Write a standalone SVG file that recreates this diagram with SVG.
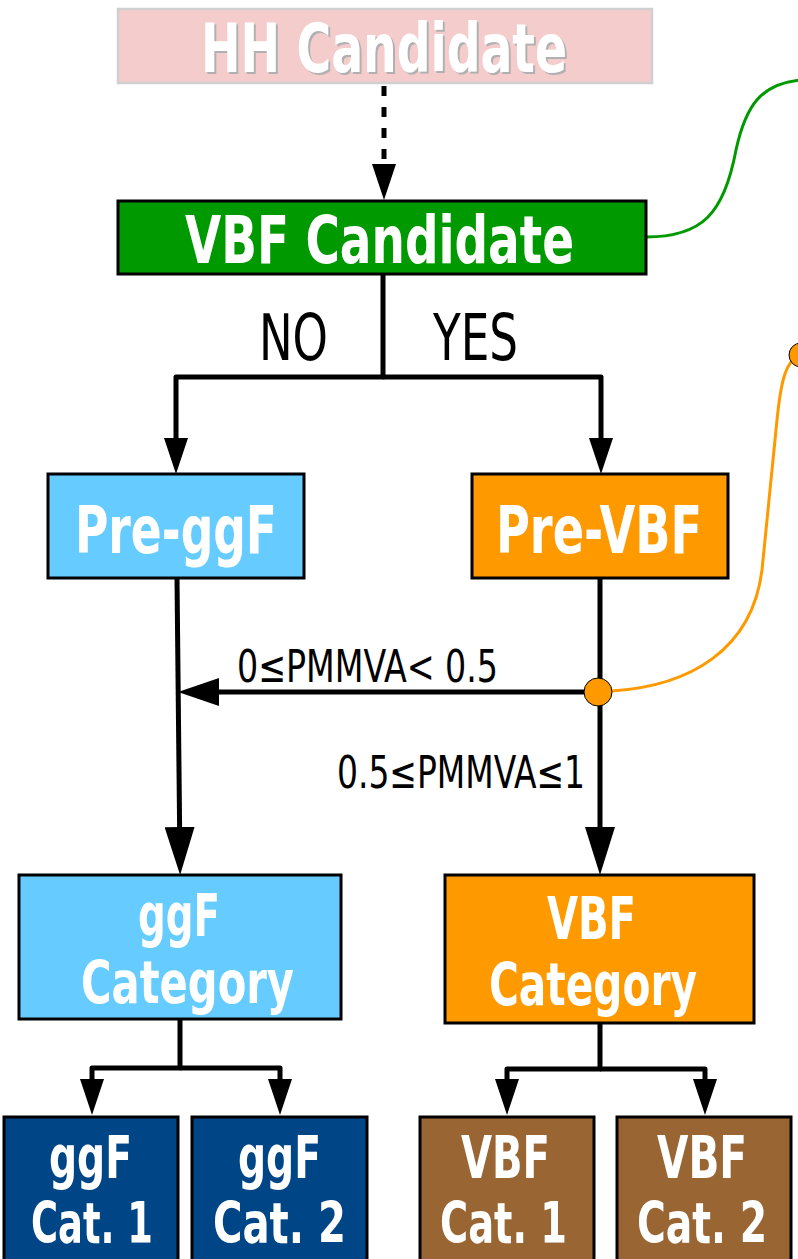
<svg xmlns="http://www.w3.org/2000/svg" width="798" height="1259" viewBox="0 0 798 1259">
<style>
.t{font-family:'DejaVu Sans Condensed','DejaVu Sans','Liberation Sans',sans-serif;font-stretch:condensed;font-weight:bold;fill:#fff}
.l{font-family:'DejaVu Sans Condensed','DejaVu Sans','Liberation Sans',sans-serif;font-stretch:condensed;font-weight:normal;fill:#000}
.box{stroke:#000;stroke-width:3}
.c{fill:none;stroke:#000;stroke-width:5;stroke-linejoin:round}
</style>
<defs>
<marker id="a" markerUnits="userSpaceOnUse" viewBox="0 0 36 24" markerWidth="36" markerHeight="24" refX="26" refY="12" orient="auto"><path d="M0,0 L36,12 L0,24 Z" fill="#000"/></marker>
<marker id="b" markerUnits="userSpaceOnUse" viewBox="0 0 48 30" markerWidth="48" markerHeight="30" refX="38" refY="15" orient="auto"><path d="M0,0 L48,15 L0,30 Z" fill="#000"/></marker>
<marker id="h" markerUnits="userSpaceOnUse" viewBox="0 0 41 28" markerWidth="41" markerHeight="28" refX="31" refY="14" orient="auto"><path d="M0,0 L41,14 L0,28 Z" fill="#000"/></marker>
<filter id="sh" x="-5%" y="-5%" width="110%" height="120%"><feDropShadow dx="2" dy="2" stdDeviation="0.6" flood-color="#b0b0b0" flood-opacity="1"/></filter>
</defs>

<g id="connectors">
<path class="c" d="M384 86 V190" stroke-dasharray="10 11" marker-end="url(#a)"/>
<path class="c" d="M383 274 V377 H176 V464" marker-end="url(#a)"/>
<path class="c" d="M383 377 H601 V464" marker-end="url(#a)"/>
<path class="c" d="M177 578 L180 865" marker-end="url(#b)"/>
<path class="c" d="M600 578 V865" marker-end="url(#b)"/>
<path class="c" d="M590 692 H188" marker-end="url(#h)"/>
<path class="c" d="M180 1019 V1068 H92 V1105" marker-end="url(#a)"/>
<path class="c" d="M180 1068 H280 V1105" marker-end="url(#a)"/>
<path class="c" d="M600 1023 V1069 H507 V1105" marker-end="url(#a)"/>
<path class="c" d="M600 1069 H705 V1105" marker-end="url(#a)"/>
<path d="M646 237 C702 237 724 214 736 150 C746 104 762 84 800 80" fill="none" stroke="#009900" stroke-width="3"/>
<path d="M612 691 C690 686 752 650 762 570 L777 420 C781 380 786 362 798 356" fill="none" stroke="#ff9900" stroke-width="3"/>
<text class="l" x="259" y="360" font-size="64" textLength="69" lengthAdjust="spacingAndGlyphs">NO</text>
<text class="l" x="433" y="360" font-size="64" textLength="85" lengthAdjust="spacingAndGlyphs">YES</text>
<text class="l" x="237" y="682" font-size="44" textLength="261" lengthAdjust="spacingAndGlyphs">0≤PMMVA&lt; 0.5</text>
<text class="l" x="337" y="788" font-size="44" textLength="248" lengthAdjust="spacingAndGlyphs">0.5≤PMMVA≤1</text>
</g>

<g id="dot">
<circle cx="598" cy="692" r="14" fill="#ff9900" stroke="#000" stroke-width="1"/>
</g>
<g id="dot2">
<circle cx="801" cy="355" r="12" fill="#ff9900" stroke="#000" stroke-width="1"/>
</g>

<g id="hh">
<rect x="118" y="9" width="534" height="74" fill="#f4cccc" stroke="#d0d0d0" stroke-width="2.5"/>
<text class="t" x="201" y="72" font-size="67" textLength="366" lengthAdjust="spacingAndGlyphs" filter="url(#sh)">HH Candidate</text>
</g>

<g id="vbfcand">
<rect class="box" x="118" y="201" width="528" height="73" fill="#009900"/>
<text class="t" x="185" y="263" font-size="66" textLength="389" lengthAdjust="spacingAndGlyphs">VBF Candidate</text>
</g>

<g id="preggf">
<rect class="box" x="48" y="474" width="256" height="104" fill="#66ccff"/>
<text class="t" x="75" y="553" font-size="66" textLength="202" lengthAdjust="spacingAndGlyphs">Pre-ggF</text>
</g>

<g id="prevbf">
<rect class="box" x="472" y="474" width="256" height="104" fill="#ff9900"/>
<text class="t" x="496" y="553" font-size="66" textLength="206" lengthAdjust="spacingAndGlyphs">Pre-VBF</text>
</g>

<g id="ggfcat">
<rect class="box" x="19" y="875" width="322" height="144" fill="#66ccff"/>
<text class="t" x="138" y="936" font-size="59" textLength="82" lengthAdjust="spacingAndGlyphs">ggF</text>
<text class="t" x="81" y="1003" font-size="59" textLength="213" lengthAdjust="spacingAndGlyphs">Category</text>
</g>

<g id="vbfcat">
<rect class="box" x="445" y="875" width="309" height="148" fill="#ff9900"/>
<text class="t" x="547" y="939" font-size="59" textLength="89" lengthAdjust="spacingAndGlyphs">VBF</text>
<text class="t" x="489" y="1005" font-size="59" textLength="208" lengthAdjust="spacingAndGlyphs">Category</text>
</g>

<g id="ggfcat1">
<rect class="box" x="4" y="1117" width="174" height="160" fill="#004586"/>
<text class="t" x="49" y="1178" font-size="58" textLength="83" lengthAdjust="spacingAndGlyphs">ggF</text>
<text class="t" x="31" y="1243" font-size="57" textLength="122" lengthAdjust="spacingAndGlyphs">Cat. 1</text>
</g>

<g id="ggfcat2">
<rect class="box" x="192" y="1117" width="175" height="160" fill="#004586"/>
<text class="t" x="238" y="1178" font-size="58" textLength="83" lengthAdjust="spacingAndGlyphs">ggF</text>
<text class="t" x="213" y="1243" font-size="57" textLength="133" lengthAdjust="spacingAndGlyphs">Cat. 2</text>
</g>

<g id="vbfcat1">
<rect class="box" x="420" y="1117" width="174" height="160" fill="#996633"/>
<text class="t" x="461" y="1178" font-size="58" textLength="89" lengthAdjust="spacingAndGlyphs">VBF</text>
<text class="t" x="440" y="1243" font-size="57" textLength="127" lengthAdjust="spacingAndGlyphs">Cat. 1</text>
</g>

<g id="vbfcat2">
<rect class="box" x="617" y="1117" width="174" height="160" fill="#996633"/>
<text class="t" x="657" y="1178" font-size="58" textLength="90" lengthAdjust="spacingAndGlyphs">VBF</text>
<text class="t" x="637" y="1243" font-size="57" textLength="130" lengthAdjust="spacingAndGlyphs">Cat. 2</text>
</g>
</svg>
